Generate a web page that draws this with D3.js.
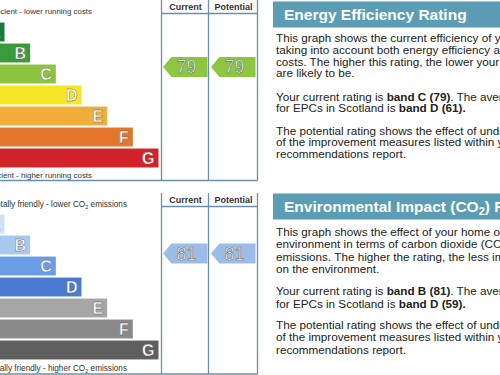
<!DOCTYPE html>
<html>
<head>
<meta charset="utf-8">
<script src="https://cdnjs.cloudflare.com/ajax/libs/d3/7.8.5/d3.min.js"></script>
<style>
  body { margin: 0; background: #fff; }
  svg { display: block; font-family: "Liberation Sans", Arial, sans-serif; }
</style>
</head>
<body>
<svg class="chart" width="500" height="375"></svg>
<script>
const svg = d3.select(".chart");

// bands and their lowest score
const bands = ["A", "B", "C", "D", "E", "F", "G"];
const bandMin = [92, 81, 69, 55, 39, 21, 1];
const bandMax = [100, 91, 80, 68, 54, 38, 20];

const eeColors = ["#137c3b", "#3b9a3b", "#8dc43f", "#f3e624", "#f0ad3a", "#e3762a", "#d2232a"];
const eiColors = ["#cfe1f5", "#a9c8ee", "#6b9de6", "#4a7bd1", "#a6a6a6", "#8a8a8a", "#5f5f5f"];

// ratings
const eeRatings = [79, 79]; // current, potential
const eiRatings = [81, 81];
const columns = ["Current", "Potential"];

const lineColor = "#6a8fae";

// text panels
const eeText = [
  [["This graph shows the current efficiency of your home,"],
   ["taking into account both energy efficiency and fuel"],
   ["costs. The higher this rating, the lower your fuel bills"],
   ["are likely to be."]],
  [["Your current rating is ", "", "band C (79)", "b", ". The average rating", ""],
   ["for EPCs in Scotland is ", "", "band D (61)", "b", ".", "b"]],
  [["The potential rating shows the effect of undertaking all"],
   ["of the improvement measures listed within your"],
   ["recommendations report."]]
];
const eiText = [
  [["This graph shows the effect of your home on the"],
   ["environment in terms of carbon dioxide (CO2)"],
   ["emissions. The higher the rating, the less impact it has"],
   ["on the environment."]],
  [["Your current rating is ", "", "band B (81)", "b", ". The average rating", ""],
   ["for EPCs in Scotland is ", "", "band D (59)", "b", ".", "b"]],
  [["The potential rating shows the effect of undertaking all"],
   ["of the improvement measures listed within your"],
   ["recommendations report."]]
];

// bar length by band index
const xBar = d3.scaleLinear().domain([0, 6]).range([4.5, 158.5]);
const xCol = d3.scaleBand().domain(columns).range([161.5, 257.5]);

function drawGraph(opts) {
  const g = svg.append("g");
  const y = d3.scaleBand().domain(bands).range([opts.barTop, opts.barTop + 147])
    .paddingInner(0.1).paddingOuter(0.05);

  // value -> arrow centre, piecewise through band extents
  const dom = [], rng = [];
  bands.forEach((b, i) => {
    dom.push(bandMax[i] + 0.5, bandMin[i] - 0.5);
    rng.push(y(b), y(b) + y.bandwidth());
  });
  const yVal = d3.scaleLinear().domain(dom.reverse()).range(rng.reverse());

  g.selectAll("rect.bar").data(bands).join("rect")
    .attr("class", "bar")
    .attr("x", -10)
    .attr("y", d => y(d))
    .attr("width", (d, i) => xBar(i) + 10)
    .attr("height", y.bandwidth())
    .attr("fill", (d, i) => opts.colors[i]);

  g.selectAll("text.letter").data(bands).join("text")
    .attr("class", "letter")
    .attr("x", (d, i) => xBar(i) - 4)
    .attr("y", d => y(d) + y.bandwidth() / 2 + 6)
    .attr("text-anchor", "end")
    .attr("font-size", 16)
    .attr("font-weight", "bold")
    .attr("fill", "#fff")
    .attr("stroke", "#555")
    .attr("stroke-width", 0.4)
    .text(d => d);

  // top / bottom captions
  const cap = (yy, parts) => {
    const t = g.append("text").attr("x", opts.capX).attr("y", yy)
      .attr("text-anchor", "end").attr("font-size", opts.capSize).attr("fill", "#333");
    parts.forEach(p => {
      if (p === "2") t.append("tspan").attr("font-size", 5.5).attr("dy", 2).text("2");
      else t.append("tspan").attr("dy", p.startsWith(" ") ? -2 : 0).text(p);
    });
  };
  cap(opts.capTop, opts.capTopText);
  cap(opts.capBottom, opts.capBottomText);

  // frame
  const lines = [
    [161.5, opts.frameTop, 161.5, opts.frameBottom],
    [208.5, opts.frameTop, 208.5, opts.frameBottom],
    [257.5, opts.frameTop, 257.5, opts.frameBottom],
    [161.5, opts.headLine, 257.5, opts.headLine],
    [0, opts.frameBottom, 257.5, opts.frameBottom]
  ];
  g.selectAll("line.frame").data(lines).join("line")
    .attr("x1", d => d[0]).attr("y1", d => d[1])
    .attr("x2", d => d[2]).attr("y2", d => d[3])
    .attr("stroke", lineColor).attr("stroke-width", 1.3);

  g.selectAll("text.col").data(columns).join("text")
    .attr("x", d => xCol(d) + xCol.bandwidth() / 2)
    .attr("y", opts.headLine - 3.5)
    .attr("text-anchor", "middle")
    .attr("font-size", 9)
    .attr("font-weight", "bold")
    .attr("fill", "#333")
    .text(d => d);

  // arrows
  const arrow = g.selectAll("g.arrow").data(opts.ratings).join("g")
    .attr("transform", (d, i) => `translate(${xCol(columns[i])},${yVal(d)})`);
  const w = xCol.bandwidth();
  arrow.append("path")
    .attr("d", `M1.5,0 L10,-10 L${w - 2},-10 L${w - 2},10 L10,10 Z`)
    .attr("fill", opts.arrowColor);
  arrow.append("text")
    .attr("x", w / 2 + 1)
    .attr("y", 6.5)
    .attr("text-anchor", "middle")
    .attr("font-size", 18)
    .attr("fill", "#fff")
    .attr("stroke", "#6d6d6d")
    .attr("stroke-width", 0.6)
    .text(d => d);
}

function drawPanel(opts) {
  const g = svg.append("g");
  g.append("rect")
    .attr("x", 273).attr("y", opts.barY)
    .attr("width", 240).attr("height", 26)
    .attr("fill", "#5b9db5");
  const t = g.append("text")
    .attr("x", 284).attr("y", opts.barY + 18)
    .attr("font-size", 15.5).attr("font-weight", "bold").attr("fill", "#fff");
  opts.title.forEach(p => {
    if (p === "2") t.append("tspan").attr("font-size", 11).attr("dy", 3).text("2");
    else t.append("tspan").attr("dy", p.startsWith(")") ? -3 : 0).text(p);
  });

  opts.paras.forEach((para, pi) => {
    para.forEach((line, li) => {
      const tx = g.append("text")
        .attr("x", 276)
        .attr("y", opts.paraY[pi] + li * opts.lineGap)
        .attr("font-size", 11.7)
        .attr("fill", "#222");
      if (line.length === 1) tx.text(line[0]);
      else for (let k = 0; k < line.length; k += 2) {
        tx.append("tspan").attr("font-weight", line[k + 1] === "b" ? "bold" : null).text(line[k]);
      }
    });
  });
}

drawGraph({
  barTop: 21.5, colors: eeColors, ratings: eeRatings, arrowColor: "#8dc63f",
  frameTop: -5, headLine: 13.5, frameBottom: 180.5,
  capX: 92, capTop: 13.5, capBottom: 178, capSize: 7.9,
  capTopText: ["Very energy efficient - lower running costs"],
  capBottomText: ["Not energy efficient - higher running costs"]
});
drawGraph({
  barTop: 213.5, colors: eiColors, ratings: eiRatings, arrowColor: "#9dbde8",
  frameTop: 193, headLine: 206.5, frameBottom: 374,
  capX: 127, capTop: 206.5, capBottom: 371, capSize: 8.2,
  capTopText: ["Very environmentally friendly - lower CO", "2", " emissions"],
  capBottomText: ["Not environmentally friendly - higher CO", "2", " emissions"]
});

drawPanel({ barY: 1.5, title: ["Energy Efficiency Rating"], paras: eeText, paraY: [42, 100.5, 134.5], lineGap: 11.8 });
drawPanel({ barY: 193.5, title: ["Environmental Impact (CO", "2", ") Rating"], paras: eiText, paraY: [235.5, 295, 328.5], lineGap: 12.5 });
</script>
</body>
</html>
